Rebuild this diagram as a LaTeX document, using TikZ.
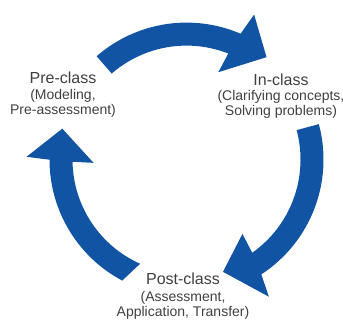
\documentclass[tikz,border=0pt]{standalone}
\usepackage{fontspec}
\setmainfont{Liberation Sans}
\definecolor{cycblue}{RGB}{18,84,164}
\definecolor{cyctext}{RGB}{64,64,64}
\tikzset{
  cycarrow/.style={fill=cycblue},
  phase/.style={inner sep=0pt, text=cyctext, font=\fontsize{16}{18}\selectfont},
  detail/.style={inner sep=0pt, text=cyctext, align=center, font=\fontsize{14}{15}\selectfont}
}
\begin{document}
\begin{tikzpicture}[x=1pt,y=1pt]
\useasboundingbox (0,0) rectangle (343,322);
\coordinate (c) at (186.5,162.4);
\fill[cycarrow] ([shift={(131:137)}]c) arc[start angle=131, end angle=66.75, radius=137]
  -- ([shift={(65:160)}]c) -- ([shift={(52:130)}]c) -- ([shift={(70:93)}]c)
  -- ([shift={(68.5:114)}]c) arc[start angle=68.5, end angle=131, radius=114] -- cycle;
\fill[cycarrow] ([shift={(15:137)}]c) arc[start angle=15, end angle=-56.9, radius=137]
  -- ([shift={(-59:160)}]c) -- ([shift={(-72:118)}]c) -- ([shift={(-53:93)}]c)
  -- ([shift={(-54.8:114)}]c) arc[start angle=-54.8, end angle=15, radius=114] -- cycle;
\fill[cycarrow] ([shift={(242:137)}]c) arc[start angle=242, end angle=180.05, radius=137]
  -- ([shift={(179:160)}]c) -- ([shift={(166:128)}]c) -- ([shift={(182:93)}]c)
  -- ([shift={(181.1:114)}]c) arc[start angle=181.1, end angle=246, radius=114] -- cycle;
\node[phase] (pre) at (63,244){Pre-class};
\node[detail] (predet) at (63,218.5){(Modeling,\\Pre-assessment)};
\node[phase] (in) at (281,242.5){In-class};
\node[detail] (indet) at (281,217.5){(Clarifying concepts,\\Solving problems)};
\node[phase] (post) at (183,43){Post-class};
\node[detail] (postdet) at (183,16.5){(Assessment,\\Application, Transfer)};
\end{tikzpicture}
\end{document}
